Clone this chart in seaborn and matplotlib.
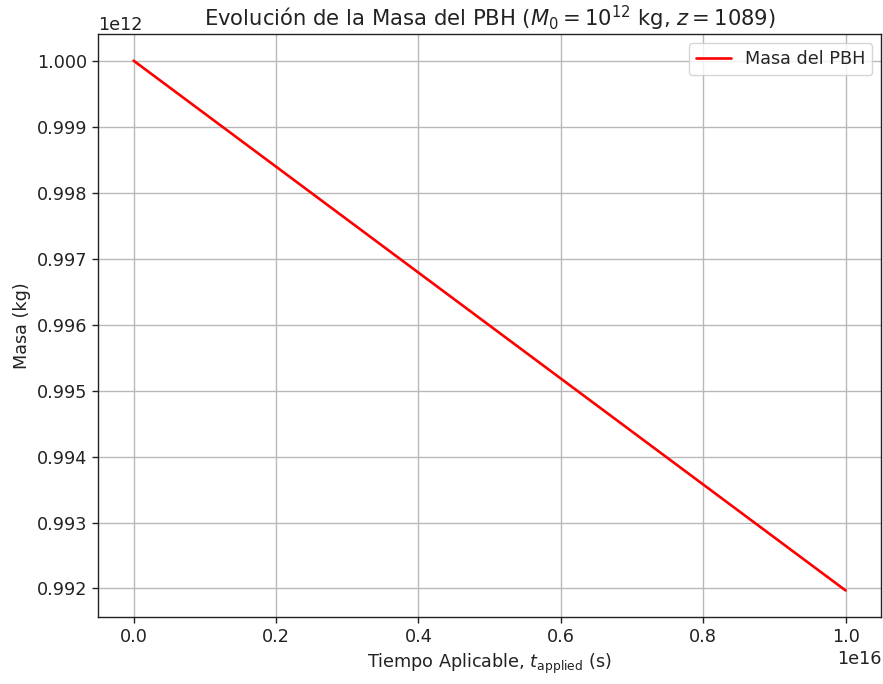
import matplotlib
matplotlib.use("Agg")
import matplotlib.pyplot as plt
import seaborn as sns
import pandas as pd

t_applied = [0.0, 1.0e16]
masa = [1.0e12, 0.99197e12]

sns.set_style("ticks")
plt.rcParams['font.family'] = ['DejaVu Sans']

df = pd.DataFrame({"t": t_applied, "m": masa})

fs = 12.7
fig = plt.figure(figsize=(8.83, 6.84), dpi=100)
ax = fig.add_axes([0.111, 0.098, 0.887, 0.852])
sns.lineplot(data=df, x="t", y="m", color="red", label="Masa del PBH", ax=ax, linewidth=1.9)
ax.grid(True, color="#b8b8b8", linewidth=1.0)
for s in ax.spines.values():
    s.set_color("#222222")
    s.set_linewidth(1.0)
ax.tick_params(direction="out", length=4.5, width=1.0, colors="#222222", labelsize=fs)
ax.yaxis.get_offset_text().set_fontsize(fs)
ax.xaxis.get_offset_text().set_fontsize(fs)
ax.set_xlabel(r"Tiempo Aplicable, $t_{\mathrm{applied}}$ (s)", fontsize=fs, color="#222222")
ax.set_ylabel("Masa (kg)", fontsize=fs, color="#222222")
ax.set_title(r"Evolución de la Masa del PBH ($M_0 = 10^{12}$ kg, $z = 1089$)", fontsize=15.2, color="#222222")
ax.legend(loc="upper right", fontsize=fs)
fig.savefig("out.png", dpi=100)
